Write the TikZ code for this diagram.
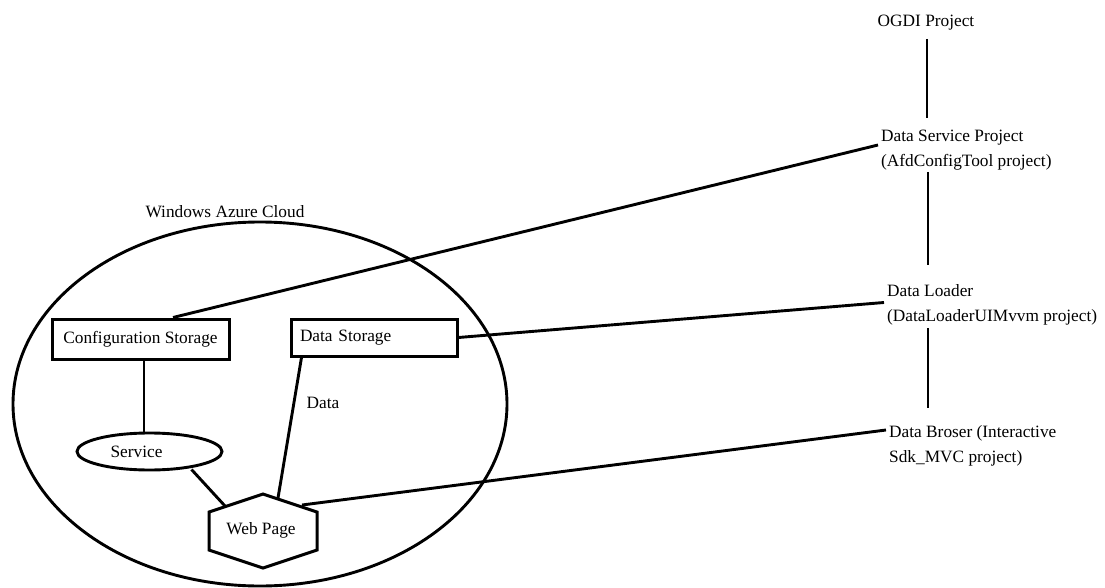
\documentclass[tikz,border=0pt]{standalone}
\usepackage{fontspec}
\setmainfont{Liberation Serif}
\usetikzlibrary{shapes.geometric,calc}
\begin{document}
\begin{tikzpicture}[x=1pt,y=-1pt,
  every node/.style={font=\fontsize{17.3}{25}\selectfont},
  conn/.style={line width=2.9pt},
  boxed/.style={draw, line width=3pt, rectangle, inner sep=0pt},
  oval/.style={draw, ellipse, line width=2.9pt, inner sep=0pt},
  hexline/.style={line width=3pt, line join=miter},
  projtext/.style={anchor=west, align=left, inner sep=3pt}]
\useasboundingbox (0,0) rectangle (1105,588);
% cloud
\node[oval, minimum width=494pt, minimum height=364pt] (cloud) at (260,404) {};
\node (cloudlbl) at (225,212) {Windows Azure Cloud};
% inner nodes
\node[boxed, minimum width=177pt, minimum height=40pt] (cfg) at (140.5,339) {Configuration Storage};
\node[boxed, minimum width=166pt, minimum height=37pt, text width=148pt, align=left] (ds) at (374,337.5) {Data Storage};
\node[oval, minimum width=145pt, minimum height=37pt] (svc) at (149.5,451.5) {Service\hspace*{26pt}};
\node[inner sep=0pt] (web) at (261,530) {Web Page};
\coordinate (wc) at (263,531);
\draw[hexline] ($(wc)+(0,-37)$) -- ($(wc)+(54,-19)$) -- ($(wc)+(54,19)$)
  -- ($(wc)+(0,37)$) -- ($(wc)+(-54,19)$) -- ($(wc)+(-54,-19)$) -- cycle;
\node (datalbl) at (323,403) {Data};
% right column
\node (ogdi) at (926,23) {OGDI Project};
\node[projtext] (dsp) at (878,150.5) {Data Service Project\\(AfdConfigTool project)};
\node[projtext] (dl) at (884,304.5) {Data Loader\\(DataLoaderUIMvvm project)};
\node[projtext] (db) at (886,446) {Data Broser (Interactive\\Sdk\_MVC project)};
% inner connectors
\draw[conn] ($(cfg.south)+(3.5,0)$) -- ($(cfg.south |- svc.north)+(3.5,1)$);
\draw[conn] ($(svc.center)+(42,18)$) -- ($(wc)+(-38,-25)$);
\draw[conn] ($(ds.south west)+(12,0)$) -- ($(wc)+(15,-33)$);
% vertical connectors
\draw[conn] ($(ogdi.center)+(1,16)$) -- ($(ogdi.center |- dsp.west)+(1,-32.5)$);
\draw[conn] ($(ogdi.center |- dsp.west)+(2,21.5)$) -- ($(ogdi.center |- dl.west)+(2,-39.5)$);
\draw[conn] ($(ogdi.center |- dl.west)+(2,23.5)$) -- ($(ogdi.center |- db.west)+(2,-38)$);
% long connectors
\draw[conn] ($(cfg.north)+(32.5,0)$) -- ($(dsp.west)+(0,-5.5)$);
\draw[conn] (ds.east) -- ($(dl.west)+(0,-2)$);
\draw[conn] ($(wc)+(39,-26)$) -- ($(db.west)+(0,-16)$);
\end{tikzpicture}
\end{document}
